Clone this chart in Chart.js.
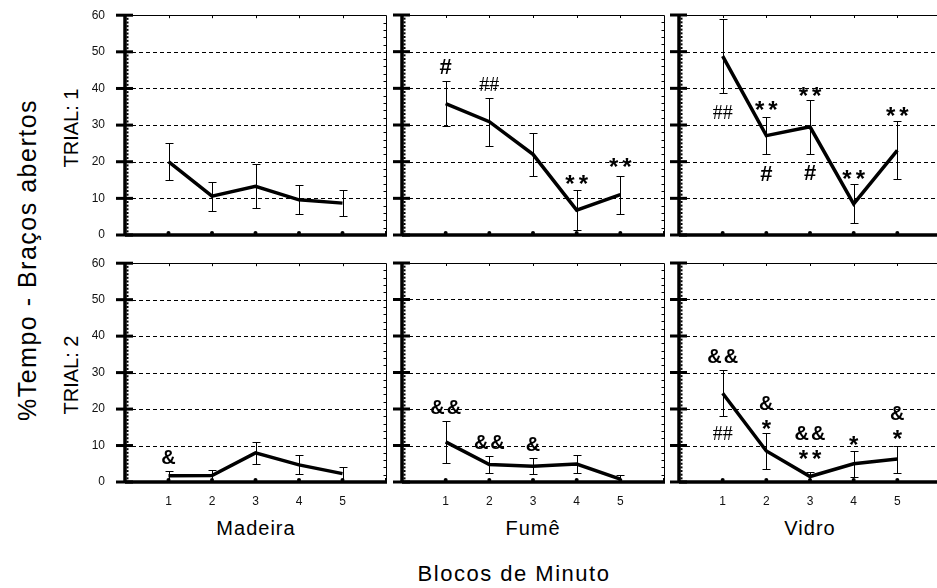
<!DOCTYPE html>
<html>
<head>
<meta charset="utf-8">
<script src="https://cdn.jsdelivr.net/npm/chart.js@4/dist/chart.umd.min.js"></script>
<style>
  html, body { margin: 0; padding: 0; background: #fff; overflow: hidden; }
  #fig { position: relative; width: 937px; height: 588px; overflow: hidden;
         font-family: "Liberation Sans", Arial, sans-serif; color: #000; }
  #fig canvas { position: absolute; }
  .lbl { position: absolute; white-space: nowrap; line-height: 1; transform: translate(-50%, -50%); }
  .rot { transform: translate(-50%, -50%) rotate(-90deg); }
</style>
</head>
<body>
<div id="fig">
  <div class="lbl rot" style="left:27px; top:260px; font-size:25px; letter-spacing:1.5px;">%Tempo - Braços abertos</div>
  <div class="lbl rot" id="trial1" style="left:71px; top:128px; font-size:20px;"></div>
  <div class="lbl rot" id="trial2" style="left:71px; top:375px; font-size:20px;"></div>
  <div class="lbl" id="mat0" style="left:256px; top:528px; font-size:20px; letter-spacing:1px;"></div>
  <div class="lbl" id="mat1" style="left:533px; top:528px; font-size:20px; letter-spacing:1px;"></div>
  <div class="lbl" id="mat2" style="left:810px; top:528px; font-size:20px; letter-spacing:1px;"></div>
  <div class="lbl" style="left:514px; top:574px; font-size:22px; letter-spacing:1.5px;">Blocos de Minuto</div>
</div>
<script>
// Blocks of one minute and the y ticks
const blocks = [1, 2, 3, 4, 5];
const yTicks = [0, 10, 20, 30, 40, 50, 60];
const materials = ['Madeira', 'Fumê', 'Vidro'];
const trials = ['TRIAL: 1', 'TRIAL: 2'];

// % time in open arms, mean and error per block
const madeiraT1    = [20.0, 10.6, 13.3, 9.6, 8.7];
const madeiraT1Err = [5.0, 4.0, 6.0, 4.0, 3.5];
const fumeT1       = [35.8, 30.9, 22.0, 6.8, 11.0];
const fumeT1Err    = [6.1, 6.6, 5.8, 5.4, 5.2];
const vidroT1      = [48.8, 27.1, 29.5, 8.5, 23.1];
const vidroT1Err   = [10.0, 5.1, 7.3, 5.3, 7.9];
const madeiraT2    = [1.7, 1.8, 8.0, 4.7, 2.3];
const madeiraT2Err = [1.3, 1.5, 3.0, 2.6, 1.9];
const fumeT2       = [11.0, 4.8, 4.3, 4.9, 0.8];
const fumeT2Err    = [5.7, 2.4, 2.2, 2.4, 1.2];
const vidroT2      = [24.3, 8.5, 1.5, 5.0, 6.3];
const vidroT2Err   = [6.3, 5.0, 1.3, 3.6, 3.7];

// significance marks: [block, symbol, height on the y scale]
const madeiraT1Marks = [];
const fumeT1Marks  = [[1, '#', 46], [2, '##', 41], [4, '**', 15.5], [5, '**', 20]];
const vidroT1Marks = [[1, '##', 33.6], [2, '**', 35.7], [2, '#', 16.8], [3, '**', 39.5],
                      [3, '#', 17.2], [4, '**', 16.8], [5, '**', 34]];
const madeiraT2Marks = [[1, '&', 7]];
const fumeT2Marks  = [[1, '&&', 20.7], [2, '&&', 11.1], [3, '&', 10.4]];
const vidroT2Marks = [[1, '&&', 34.5], [1, '##', 13.4], [2, '&', 21.7], [2, '*', 16],
                      [3, '&&', 13.5], [3, '**', 7.9], [4, '*', 11.7], [5, '&', 19], [5, '*', 13.4]];

document.getElementById('trial1').textContent = trials[0];
document.getElementById('trial2').textContent = trials[1];
materials.forEach((m, i) => { document.getElementById('mat' + i).textContent = m; });

// plot-area boxes in page pixels
const cols = [{ l: 125, r: 386 }, { l: 402, r: 664 }, { l: 679, r: 941 }];
const rows = [{ t: 15, b: 235 }, { t: 263, b: 482 }];
const PAD = { left: 45, top: 12, right: 12, bottom: 30 };

const panels = [
  { row: 0, col: 0, mean: madeiraT1, err: madeiraT1Err, marks: madeiraT1Marks },
  { row: 0, col: 1, mean: fumeT1,    err: fumeT1Err,    marks: fumeT1Marks },
  { row: 0, col: 2, mean: vidroT1,   err: vidroT1Err,   marks: vidroT1Marks },
  { row: 1, col: 0, mean: madeiraT2, err: madeiraT2Err, marks: madeiraT2Marks },
  { row: 1, col: 1, mean: fumeT2,    err: fumeT2Err,    marks: fumeT2Marks },
  { row: 1, col: 2, mean: vidroT2,   err: vidroT2Err,   marks: vidroT2Marks }
];

const SANS = '"Liberation Sans", Arial, sans-serif';
function markStyle(sym) {
  if (sym === '##') return { size: 20, font: '20px "Liberation Serif", serif', spacing: 0, k: 0.34 };
  if (sym[0] === '#') return { size: 22, font: 'bold 22px ' + SANS, spacing: 0, k: 0.345 };
  if (sym[0] === '&') return { size: 20, font: 'bold 20px ' + SANS, spacing: sym.length > 1 ? 2 : 0, k: 0.36 };
  return { size: 24, font: 'bold 24px ' + SANS, spacing: sym.length > 1 ? 4 : 0, k: 0.57 };
}

// frame, dashed grid, axes with tick marks, error bars and marks
const framePlugin = {
  id: 'frame',
  beforeDatasetsDraw(chart) {
    const { ctx, chartArea: a, scales: { x, y } } = chart;
    ctx.save();
    ctx.strokeStyle = '#000';
    ctx.fillStyle = '#000';
    ctx.lineWidth = 1;
    ctx.setLineDash([4, 3]);
    yTicks.forEach(v => {
      if (v === 0 || v === 60) return;
      const py = Math.round(y.getPixelForValue(v)) + 0.5;
      ctx.beginPath(); ctx.moveTo(a.left, py); ctx.lineTo(a.right, py); ctx.stroke();
    });
    ctx.setLineDash([]);
    ctx.beginPath();
    ctx.moveTo(a.left, Math.round(a.top) + 0.5);
    ctx.lineTo(Math.round(a.right) + 0.5, Math.round(a.top) + 0.5);
    ctx.lineTo(Math.round(a.right) + 0.5, a.bottom);
    ctx.stroke();
    for (let v = 2; v < 60; v += 2) {
      const py = Math.round(y.getPixelForValue(v)) + 0.5;
      ctx.beginPath(); ctx.moveTo(a.right - 2.5, py); ctx.lineTo(a.right, py); ctx.stroke();
    }
    blocks.forEach(b => {
      const px = Math.round(x.getPixelForValue(b)) + 0.5;
      ctx.beginPath(); ctx.moveTo(px, a.top); ctx.lineTo(px, a.top + 3); ctx.stroke();
    });
    ctx.lineWidth = 3.5;
    ctx.beginPath(); ctx.moveTo(a.left, a.top - 1); ctx.lineTo(a.left, a.bottom); ctx.stroke();
    for (let v = 1; v < 60; v++) {
      if (v % 10 === 0) continue;
      const py = y.getPixelForValue(v);
      ctx.fillRect(a.left + 1.5, py - 1, 2, 2);
    }
    ctx.lineWidth = 3;
    yTicks.forEach(v => {
      const py = y.getPixelForValue(v);
      ctx.beginPath(); ctx.moveTo(a.left - 9, py); ctx.lineTo(a.left + 8, py); ctx.stroke();
    });
    ctx.lineWidth = 3.5;
    ctx.beginPath(); ctx.moveTo(a.left, a.bottom); ctx.lineTo(a.right + 1, a.bottom); ctx.stroke();
    blocks.forEach(b => {
      const px = x.getPixelForValue(b);
      ctx.beginPath(); ctx.arc(px, a.bottom - 2, 2, 0, Math.PI * 2); ctx.fill();
    });
    ctx.fillRect(a.right - 1, a.bottom - 4, 2, 4);
    ctx.restore();
  },
  afterDatasetsDraw(chart, args, opts) {
    const { ctx, scales: { x, y } } = chart;
    const p = opts.panel;
    ctx.save();
    ctx.strokeStyle = '#000';
    ctx.fillStyle = '#000';
    ctx.lineWidth = 1;
    blocks.forEach((b, i) => {
      const px = Math.round(x.getPixelForValue(b)) + 0.5;
      const lo = Math.max(0, p.mean[i] - p.err[i]);
      const hi = p.mean[i] + p.err[i];
      const yLo = Math.round(y.getPixelForValue(lo)) + 0.5;
      const yHi = Math.round(y.getPixelForValue(hi)) + 0.5;
      ctx.beginPath();
      ctx.moveTo(px, yLo); ctx.lineTo(px, yHi);
      ctx.moveTo(px - 4, yHi); ctx.lineTo(px + 4, yHi);
      ctx.moveTo(px - 4, yLo); ctx.lineTo(px + 4, yLo);
      ctx.stroke();
    });
    ctx.textAlign = 'center';
    ctx.textBaseline = 'alphabetic';
    p.marks.forEach(([b, sym, v]) => {
      const st = markStyle(sym);
      ctx.font = st.font;
      ctx.letterSpacing = st.spacing + 'px';
      const px = x.getPixelForValue(b) + st.spacing / 2;
      const py = y.getPixelForValue(v) + st.k * st.size;
      ctx.fillText(sym, px, py);
    });
    ctx.restore();
  }
};

function buildConfig(p) {
  return {
    type: 'line',
    data: {
      datasets: [{
        data: blocks.map((b, i) => ({ x: b, y: p.mean[i] })),
        borderColor: '#000',
        borderWidth: 3.5,
        pointRadius: 0,
        tension: 0,
        fill: false
      }]
    },
    options: {
      responsive: false,
      maintainAspectRatio: false,
      animation: false,
      devicePixelRatio: 1,
      events: [],
      layout: { padding: { left: 0, top: PAD.top, right: PAD.right, bottom: 0 } },
      plugins: { legend: { display: false }, tooltip: { enabled: false }, frame: { panel: p } },
      scales: {
        x: {
          type: 'linear', min: 0, max: 6,
          grid: { display: false, drawTicks: false },
          border: { display: false },
          afterFit: s => { s.height = PAD.bottom; },
          ticks: {
            display: p.row === 1,
            stepSize: 1, autoSkip: false, maxRotation: 0, padding: 12,
            color: '#111',
            font: { family: SANS, size: 12 },
            callback: v => (v >= 1 && v <= 5 ? String(v) : '')
          }
        },
        y: {
          min: 0, max: 60,
          grid: { display: false, drawTicks: false },
          border: { display: false },
          afterFit: s => { s.width = PAD.left; },
          ticks: {
            display: p.col === 0,
            stepSize: 10, padding: 20,
            color: '#111',
            font: { family: SANS, size: 12 }
          }
        }
      }
    },
    plugins: [framePlugin]
  };
}

const fig = document.getElementById('fig');
panels.forEach(p => {
  const c = cols[p.col], r = rows[p.row];
  const wantW = c.r - c.l, wantH = r.b - r.t;
  let W = wantW + PAD.left + PAD.right;
  let H = wantH + PAD.top + PAD.bottom;
  let chart = null, cv = null;
  // size the canvas so that the plot area gets the wanted box
  for (let pass = 0; pass < 4; pass++) {
    if (chart) { chart.destroy(); cv.remove(); }
    cv = document.createElement('canvas');
    cv.width = W; cv.height = H;
    cv.style.width = W + 'px'; cv.style.height = H + 'px';
    fig.appendChild(cv);
    chart = new Chart(cv, buildConfig(p));
    const a = chart.chartArea;
    const dw = Math.round(wantW - (a.right - a.left));
    const dh = Math.round(wantH - (a.bottom - a.top));
    if (!dw && !dh) break;
    W += dw; H += dh;
  }
  const a = chart.chartArea;
  cv.style.left = (c.l - a.left) + 'px';
  cv.style.top = (r.t - a.top) + 'px';
});
</script>
</body>
</html>
